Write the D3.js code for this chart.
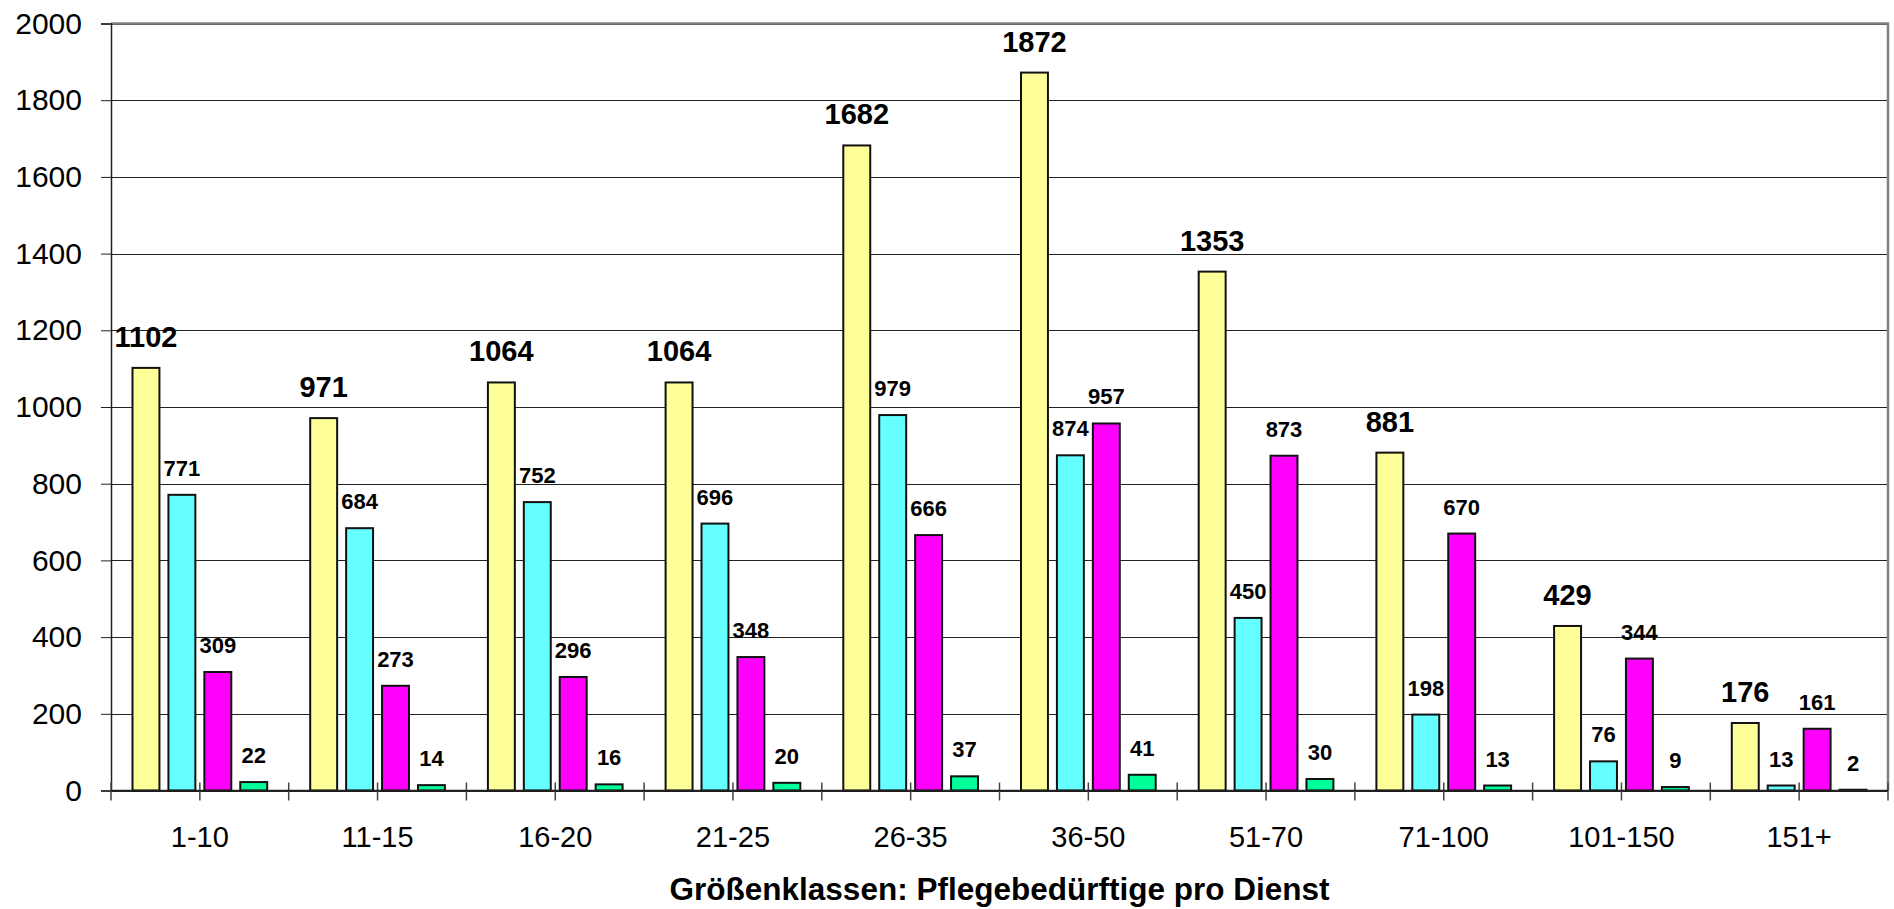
<!DOCTYPE html>
<html>
<head>
<meta charset="utf-8">
<script src="https://cdn.jsdelivr.net/npm/d3@7"></script>
<style>
  html, body { margin: 0; padding: 0; background: #fff; }
  svg { display: block; }
  text { font-family: "Liberation Sans", Arial, sans-serif; }
</style>
</head>
<body>
<svg id="chart" width="1894" height="909"></svg>
<script>
// Größenklassen (Pflegebedürftige pro Dienst)
const categories = ["1-10", "11-15", "16-20", "21-25", "26-35", "36-50", "51-70", "71-100", "101-150", "151+"];
// Four series per size class
const seriesA = [1102, 971, 1064, 1064, 1682, 1872, 1353, 881, 429, 176];
const seriesB = [771, 684, 752, 696, 979, 874, 450, 198, 76, 13];
const seriesC = [309, 273, 296, 348, 666, 957, 873, 670, 344, 161];
const seriesD = [22, 14, 16, 20, 37, 41, 30, 13, 9, 2];
const seriesKeys = ["A", "B", "C", "D"];
const seriesColors = ["#FFFF99", "#66FFFF", "#FF00FF", "#00FF99"];
const yTicks = [0, 200, 400, 600, 800, 1000, 1200, 1400, 1600, 1800, 2000];
const axisTitle = "Größenklassen: Pflegebedürftige pro Dienst";

const seriesValues = [seriesA, seriesB, seriesC, seriesD];

const svg = d3.select("#chart");
const plotLeft = 111, plotRight = 1888, plotTop = 23.5, plotBottom = 790.5;

const x = d3.scaleBand().domain(categories).range([plotLeft, plotRight]).padding(0);
const bw = x.bandwidth();
const inner = d3.scaleBand().domain(seriesKeys).range([21.5, bw - 21.5]).paddingInner(0.25);
const y = d3.scaleLinear().domain([0, 2000]).range([plotBottom, plotTop]);

// horizontal gridlines
svg.append("g")
  .selectAll("line")
  .data(yTicks)
  .join("line")
  .attr("x1", plotLeft).attr("x2", plotRight)
  .attr("y1", d => Math.round(y(d)) + 0.5).attr("y2", d => Math.round(y(d)) + 0.5)
  .attr("stroke", "#222").attr("stroke-width", 1);

// plot border (top / right)
svg.append("path")
  .attr("d", `M${plotLeft},${plotTop} H${plotRight} V${plotBottom}`)
  .attr("fill", "none").attr("stroke", "#808080").attr("stroke-width", 2.5);

// y axis
const yAxis = d3.axisLeft(y).tickValues(yTicks).tickSize(10).tickPadding(19).tickFormat(d3.format("d"));
const gy = svg.append("g").attr("transform", `translate(${plotLeft},0)`).call(yAxis);
gy.select(".domain").attr("stroke", "#222").attr("stroke-width", 1.5);
gy.selectAll(".tick line").attr("stroke", "#222");
gy.selectAll("text").attr("font-size", 30).attr("fill", "#000")
  .attr("font-family", "'Liberation Sans', Arial, sans-serif");

// x axis: ticks at category boundaries and centres
const xTickPos = [];
categories.forEach(c => { xTickPos.push(x(c)); xTickPos.push(x(c) + bw / 2); });
xTickPos.push(plotRight);
svg.append("g")
  .selectAll("line")
  .data(xTickPos)
  .join("line")
  .attr("x1", d => d).attr("x2", d => d)
  .attr("y1", plotBottom - 8).attr("y2", plotBottom + 10)
  .attr("stroke", "#444").attr("stroke-width", 1.5);

// bars
const groups = svg.append("g")
  .selectAll("g")
  .data(categories)
  .join("g")
  .attr("transform", c => `translate(${x(c)},0)`);

groups.selectAll("rect")
  .data((c, i) => seriesKeys.map((k, s) => ({ k, s, v: seriesValues[s][i] })))
  .join("rect")
  .attr("x", d => inner(d.k))
  .attr("width", inner.bandwidth())
  .attr("y", d => y(d.v))
  .attr("height", d => plotBottom - y(d.v))
  .attr("fill", d => seriesColors[d.s])
  .attr("stroke", "#111").attr("stroke-width", 2);

// value labels
groups.selectAll("text")
  .data((c, i) => seriesKeys.map((k, s) => ({ k, s, v: seriesValues[s][i] })))
  .join("text")
  .attr("x", d => inner(d.k) + inner.bandwidth() / 2)
  .attr("y", d => y(d.v) - (d.s === 0 ? 21 : 19))
  .attr("text-anchor", "middle")
  .attr("font-weight", "bold")
  .attr("font-size", d => d.s === 0 ? 29 : 22)
  .attr("fill", "#000")
  .text(d => d.v);

// x axis line
svg.append("line")
  .attr("x1", plotLeft).attr("x2", plotRight)
  .attr("y1", plotBottom).attr("y2", plotBottom)
  .attr("stroke", "#222").attr("stroke-width", 1.5);

// category labels
svg.append("g")
  .selectAll("text")
  .data(categories)
  .join("text")
  .attr("x", c => x(c) + bw / 2)
  .attr("y", 847)
  .attr("text-anchor", "middle")
  .attr("font-size", 29)
  .attr("fill", "#000")
  .text(c => c);

// axis title
svg.append("text")
  .attr("x", (plotLeft + plotRight) / 2)
  .attr("y", 900)
  .attr("text-anchor", "middle")
  .attr("font-size", 31.5)
  .attr("font-weight", "bold")
  .attr("fill", "#000")
  .text(axisTitle);
</script>
</body>
</html>
